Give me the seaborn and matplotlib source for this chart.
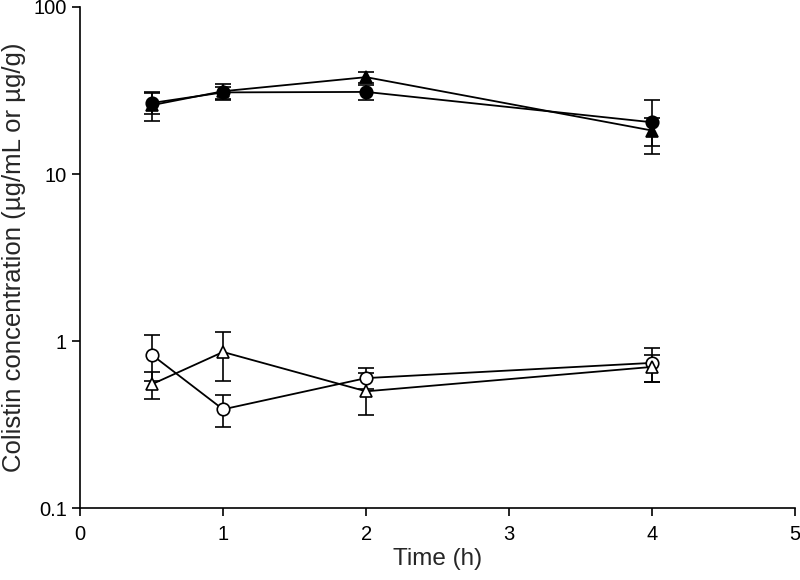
import pandas as pd
import seaborn as sns
import matplotlib.pyplot as plt
from matplotlib.ticker import FixedLocator, NullLocator

# Time points (h)
time = [0.5, 1, 2, 4]

# Colistin concentration values
filled_circle = [26.6, 30.8, 31.0, 20.4]
filled_circle_err = [3.8, 2.5, 3.2, 7.3]
filled_triangle = [25.8, 31.3, 38.0, 18.2]
filled_triangle_err = [5.1, 3.5, 3.0, 3.5]
open_circle = [0.83, 0.39, 0.60, 0.74]
open_circle_err = [0.25, 0.085, 0.085, 0.17]
open_triangle = [0.55, 0.86, 0.50, 0.70]
open_triangle_err = [0.10, 0.28, 0.14, 0.13]

series = [
    ('filled_circle', filled_circle, filled_circle_err, 'o', 'black'),
    ('filled_triangle', filled_triangle, filled_triangle_err, '^', 'black'),
    ('open_circle', open_circle, open_circle_err, 'o', 'white'),
    ('open_triangle', open_triangle, open_triangle_err, '^', 'white'),
]

sns.set_style('ticks')
plt.rcParams['font.family'] = ['Liberation Sans', 'DejaVu Sans']

fig = plt.figure(figsize=(8, 5.8), dpi=100)
ax = fig.add_axes([0.1, 0.124, 0.894, 0.864])

for name, vals, errs, marker, face in series:
    df = pd.DataFrame({'Time': time, 'Conc': vals})
    # error bars first so markers sit on top
    ax.errorbar(time, vals, yerr=errs, fmt='none', ecolor='black',
                elinewidth=1.2, capsize=5.5, capthick=1.2, zorder=2)
    sns.lineplot(data=df, x='Time', y='Conc', ax=ax, color='black',
                 linewidth=1.3, marker=marker, markersize=9,
                 markerfacecolor=face, markeredgecolor='black',
                 markeredgewidth=1.2, zorder=3)

ax.set_yscale('log')
ax.set_ylim(0.1, 100)
ax.set_xlim(0, 5)
ax.xaxis.set_major_locator(FixedLocator([0, 1, 2, 3, 4, 5]))
ax.yaxis.set_major_locator(FixedLocator([0.1, 1, 10, 100]))
ax.yaxis.set_minor_locator(NullLocator())
ax.set_yticklabels(['0.1', '1', '10', '100'])

ax.set_xlabel('Time (h)', fontsize=17.5, labelpad=3)
ax.set_ylabel('Colistin concentration (µg/mL or µg/g)', fontsize=18.5, labelpad=5)
ax.tick_params(axis='both', direction='out', length=6, width=1.2,
               labelsize=14.5, color='black', labelcolor='black')
ax.tick_params(axis='x', pad=6)
for side in ['left', 'bottom']:
    ax.spines[side].set_linewidth(1.2)
    ax.spines[side].set_color('black')
sns.despine(ax=ax)

fig.savefig('out.png', dpi=100)
